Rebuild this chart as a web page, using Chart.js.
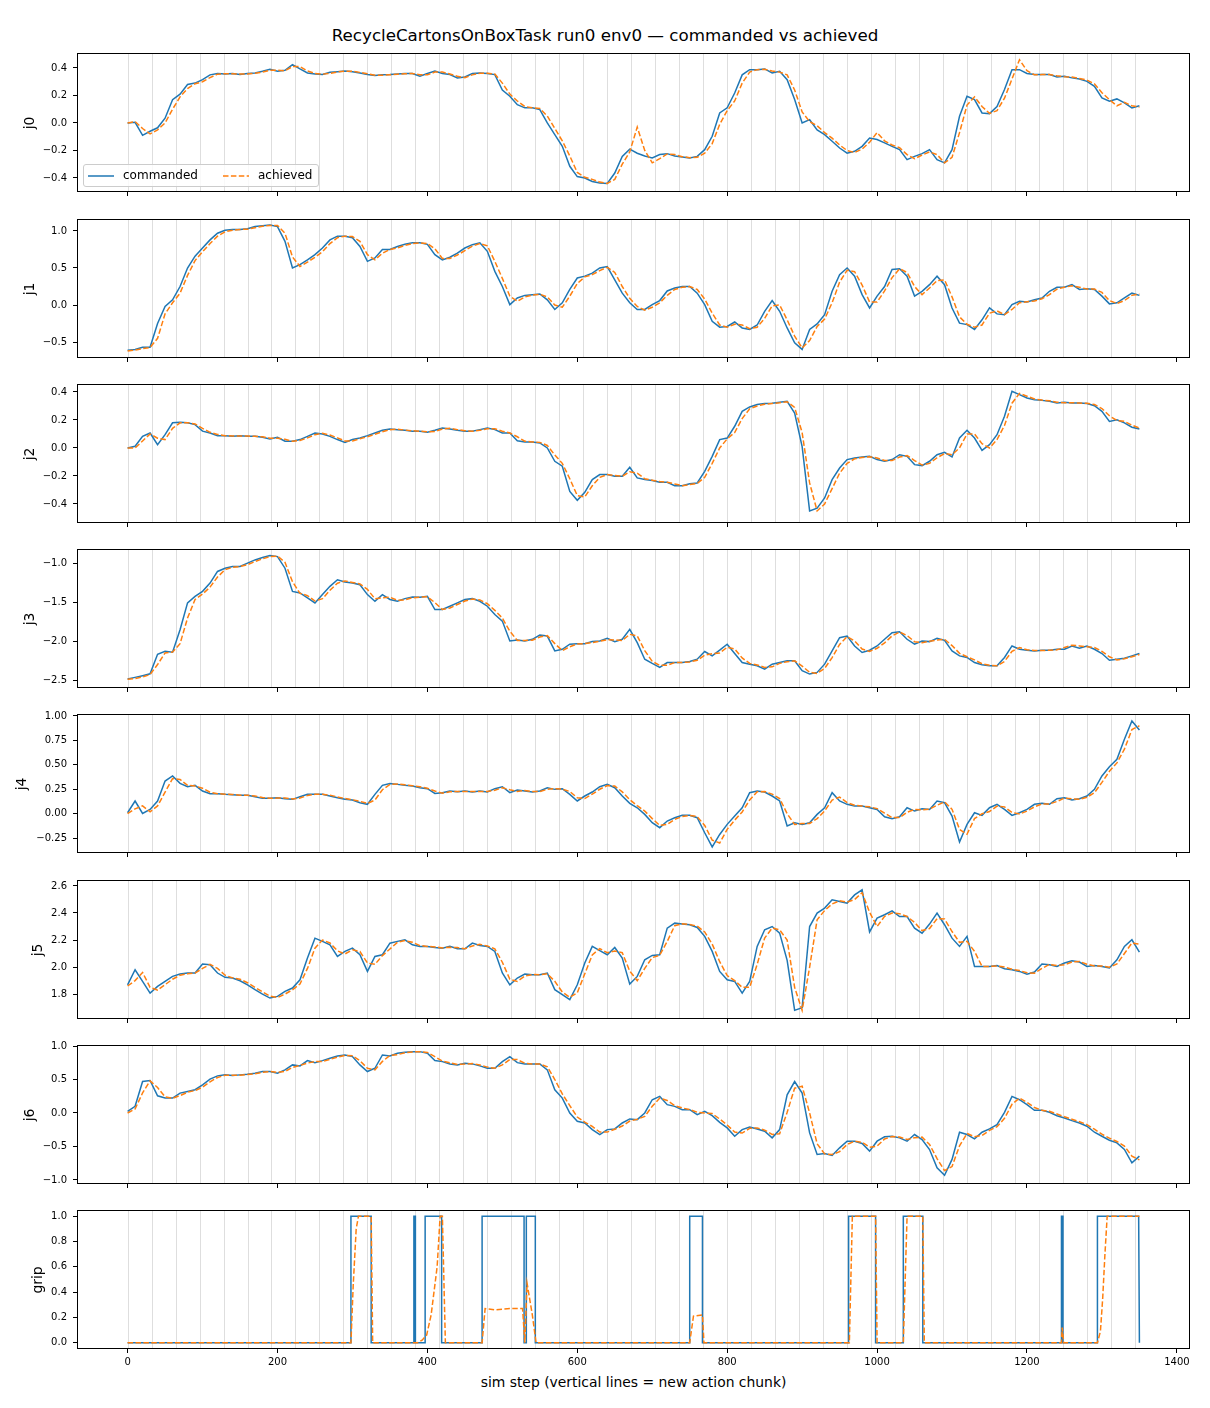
<!DOCTYPE html>
<html>
<head>
<meta charset="utf-8">
<script src="https://cdn.jsdelivr.net/npm/chart.js@4.4.1/dist/chart.umd.min.js"></script>
<style>
  body { margin: 0; background: #fff; font-family: "DejaVu Sans", sans-serif; color: #000; }
  #page { position: relative; width: 1210px; height: 1408px; overflow: hidden; }
  #page canvas { position: absolute; left: 0; }
  .suptitle { position: absolute; top: 27px; left: 0; width: 1210px; text-align: center; font-size: 16.7px; line-height: 17px; }
  .xlabel { position: absolute; top: 1374px; left: 77px; width: 1113px; text-align: center; font-size: 13.9px; line-height: 16px; }
  .ylabel { position: absolute; width: 60px; height: 16px; line-height: 16px; text-align: center; font-size: 13.9px; transform: rotate(-90deg); }
  .legend { position: absolute; left: 83px; top: 164px; width: 234px; height: 21px; border: 1px solid #ccc; border-radius: 3px; background: rgba(255,255,255,0.8); font-size: 12px; z-index: 5; }
  .legend svg { position: absolute; top: 9px; }
  .legend span { position: absolute; top: 3px; line-height: 14px; }
</style>
</head>
<body>
<div id="page">
  <div class="suptitle">RecycleCartonsOnBoxTask run0 env0 — commanded vs achieved</div>
  <div class="legend">
    <svg style="left:4px" width="27" height="4"><line x1="0" y1="2" x2="26" y2="2" stroke="#1f77b4" stroke-width="1.5"/></svg>
    <span style="left:39px">commanded</span>
    <svg style="left:139px" width="27" height="4"><line x1="0" y1="2" x2="26" y2="2" stroke="#ff7f0e" stroke-width="1.5" stroke-dasharray="5.5 2.4"/></svg>
    <span style="left:174px">achieved</span>
  </div>
  <div class="xlabel">sim step (vertical lines = new action chunk)</div>
</div>
<script>
// sim steps (every 10th step)
const steps = [
  0, 10, 20, 30, 40, 50, 60, 70, 80, 90,
  100, 110, 120, 130, 140, 150, 160, 170, 180, 190,
  200, 210, 220, 230, 240, 250, 260, 270, 280, 290,
  300, 310, 320, 330, 340, 350, 360, 370, 380, 390,
  400, 410, 420, 430, 440, 450, 460, 470, 480, 490,
  500, 510, 520, 530, 540, 550, 560, 570, 580, 590,
  600, 610, 620, 630, 640, 650, 660, 670, 680, 690,
  700, 710, 720, 730, 740, 750, 760, 770, 780, 790,
  800, 810, 820, 830, 840, 850, 860, 870, 880, 890,
  900, 910, 920, 930, 940, 950, 960, 970, 980, 990,
  1000, 1010, 1020, 1030, 1040, 1050, 1060, 1070, 1080, 1090,
  1100, 1110, 1120, 1130, 1140, 1150, 1160, 1170, 1180, 1190,
  1200, 1210, 1220, 1230, 1240, 1250, 1260, 1270, 1280, 1290,
  1300, 1310, 1320, 1330, 1340, 1350
];

// action chunk boundaries (every 32 steps)
const chunkStarts = [0, 32, 64, 96, 128, 160, 192, 224, 256, 288, 320, 352, 384, 416, 448, 480,
  512, 544, 576, 608, 640, 672, 704, 736, 768, 800, 832, 864, 896, 928, 960, 992, 1024, 1056,
  1088, 1120, 1152, 1184, 1216, 1248, 1280, 1312, 1344];

const xTicks = [0, 200, 400, 600, 800, 1000, 1200, 1400];

const j0Cmd = [
  0.00, 0.005, -0.09, -0.06, -0.035, 0.035, 0.17, 0.21, 0.28, 0.29,
  0.315, 0.35, 0.36, 0.357, 0.36, 0.352, 0.36, 0.364, 0.376, 0.39,
  0.376, 0.383, 0.425, 0.393, 0.364, 0.357, 0.352, 0.369, 0.373, 0.378,
  0.373, 0.364, 0.352, 0.345, 0.35, 0.352, 0.357, 0.36, 0.36, 0.34,
  0.36, 0.378, 0.36, 0.352, 0.328, 0.335, 0.36, 0.364, 0.36, 0.352,
  0.24, 0.195, 0.133, 0.11, 0.11, 0.097, 0.0, -0.085, -0.17, -0.315,
  -0.39, -0.40, -0.425, -0.437, -0.44, -0.364, -0.243, -0.19, -0.22, -0.24,
  -0.255, -0.23, -0.223, -0.24, -0.248, -0.255, -0.243, -0.194, -0.097, 0.073,
  0.11, 0.218, 0.35, 0.388, 0.388, 0.393, 0.364, 0.376, 0.315, 0.17,
  0.0, 0.024, -0.05, -0.085, -0.133, -0.182, -0.22, -0.206, -0.17, -0.11,
  -0.12, -0.145, -0.17, -0.194, -0.267, -0.243, -0.223, -0.194, -0.267, -0.29,
  -0.194, 0.049, 0.194, 0.17, 0.073, 0.068, 0.12, 0.243, 0.388, 0.388,
  0.36, 0.352, 0.352, 0.352, 0.335, 0.34, 0.328, 0.32, 0.303, 0.267,
  0.182, 0.158, 0.175, 0.146, 0.11, 0.126
];
const j0Ach = [
  0.0, 0.01, -0.04, -0.08, -0.05, 0.0, 0.10, 0.19, 0.25, 0.285,
  0.30, 0.33, 0.355, 0.358, 0.358, 0.356, 0.356, 0.362, 0.37, 0.383,
  0.383, 0.38, 0.41, 0.41, 0.378, 0.36, 0.355, 0.36, 0.371, 0.376,
  0.376, 0.368, 0.358, 0.348, 0.348, 0.351, 0.355, 0.358, 0.36, 0.35,
  0.35, 0.37, 0.37, 0.356, 0.34, 0.33, 0.35, 0.362, 0.362, 0.356,
  0.29, 0.21, 0.16, 0.12, 0.11, 0.105, 0.05, -0.04, -0.13, -0.24,
  -0.36, -0.395, -0.41, -0.43, -0.44, -0.41, -0.30, -0.21, -0.03, -0.20,
  -0.29, -0.26, -0.225, -0.23, -0.245, -0.252, -0.25, -0.22, -0.15, -0.01,
  0.09, 0.16, 0.29, 0.37, 0.388, 0.39, 0.378, 0.37, 0.35, 0.24,
  0.08, 0.01, -0.02, -0.07, -0.11, -0.16, -0.20, -0.215, -0.19, -0.14,
  -0.07, -0.13, -0.16, -0.18, -0.23, -0.26, -0.233, -0.21, -0.23, -0.29,
  -0.25, -0.07, 0.13, 0.19, 0.12, 0.07, 0.09, 0.18, 0.32, 0.46,
  0.38, 0.35, 0.352, 0.352, 0.343, 0.337, 0.334, 0.324, 0.312, 0.285,
  0.22, 0.17, 0.125, 0.15, 0.125, 0.115
];

const j1Cmd = [
  -0.61, -0.60, -0.57, -0.57, -0.25, -0.02, 0.07, 0.25, 0.50, 0.66,
  0.77, 0.88, 0.97, 1.01, 1.02, 1.02, 1.03, 1.06, 1.07, 1.08,
  1.06, 0.86, 0.50, 0.545, 0.61, 0.68, 0.77, 0.88, 0.93, 0.93,
  0.91, 0.79, 0.59, 0.635, 0.75, 0.75, 0.79, 0.82, 0.84, 0.84,
  0.82, 0.68, 0.61, 0.645, 0.70, 0.77, 0.815, 0.84, 0.725, 0.455,
  0.25, 0.005, 0.095, 0.13, 0.14, 0.15, 0.07, -0.06, 0.03, 0.21,
  0.365, 0.39, 0.43, 0.50, 0.52, 0.34, 0.16, 0.03, -0.06, -0.06,
  0.005, 0.06, 0.19, 0.23, 0.25, 0.25, 0.16, 0.005, -0.22, -0.30,
  -0.29, -0.23, -0.31, -0.33, -0.27, -0.085, 0.06, -0.085, -0.31, -0.51,
  -0.60, -0.33, -0.255, -0.13, 0.185, 0.41, 0.50, 0.39, 0.14, -0.04,
  0.12, 0.25, 0.48, 0.49, 0.39, 0.12, 0.185, 0.275, 0.39, 0.275,
  -0.04, -0.245, -0.265, -0.33, -0.20, -0.04, -0.12, -0.13, 0.005, 0.05,
  0.04, 0.07, 0.095, 0.185, 0.24, 0.24, 0.275, 0.21, 0.22, 0.21,
  0.12, 0.015, 0.03, 0.095, 0.16, 0.13
];
const j1Ach = [
  -0.62, -0.61, -0.59, -0.575, -0.45, -0.12, 0.03, 0.16, 0.40, 0.60,
  0.72, 0.83, 0.93, 0.99, 1.01, 1.02, 1.025, 1.045, 1.065, 1.075,
  1.075, 0.97, 0.65, 0.52, 0.58, 0.645, 0.72, 0.83, 0.91, 0.93,
  0.925, 0.86, 0.68, 0.61, 0.70, 0.75, 0.77, 0.805, 0.83, 0.84,
  0.83, 0.76, 0.63, 0.63, 0.675, 0.735, 0.795, 0.83, 0.80, 0.59,
  0.36, 0.12, 0.05, 0.11, 0.135, 0.145, 0.11, 0.0, -0.03, 0.12,
  0.29, 0.38, 0.41, 0.465, 0.51, 0.44, 0.25, 0.09, -0.02, -0.07,
  -0.03, 0.03, 0.13, 0.21, 0.24, 0.25, 0.21, 0.08, -0.11, -0.27,
  -0.30, -0.26, -0.27, -0.32, -0.30, -0.18, -0.01, 0.0, -0.20, -0.42,
  -0.58, -0.48, -0.29, -0.19, 0.03, 0.31, 0.47, 0.45, 0.27, 0.04,
  0.04, 0.19, 0.37, 0.49, 0.44, 0.25, 0.14, 0.23, 0.33, 0.34,
  0.11, -0.16, -0.26, -0.30, -0.27, -0.11, -0.08, -0.13, -0.06, 0.03,
  0.045, 0.055, 0.085, 0.14, 0.215, 0.24, 0.26, 0.24, 0.215, 0.215,
  0.17, 0.06, 0.02, 0.06, 0.13, 0.15
];

const j2Cmd = [
  0.0, 0.012, 0.083, 0.107, 0.024, 0.095, 0.18, 0.183, 0.18, 0.167,
  0.12, 0.107, 0.088, 0.088, 0.083, 0.088, 0.083, 0.083, 0.076, 0.064,
  0.076, 0.048, 0.048, 0.06, 0.083, 0.107, 0.1, 0.083, 0.06, 0.04,
  0.06, 0.071, 0.088, 0.107, 0.126, 0.136, 0.131, 0.126, 0.12, 0.12,
  0.112, 0.126, 0.143, 0.136, 0.126, 0.12, 0.12, 0.131, 0.143, 0.131,
  0.107, 0.107, 0.052, 0.043, 0.043, 0.036, 0.0, -0.095, -0.13, -0.31,
  -0.374, -0.317, -0.226, -0.19, -0.19, -0.202, -0.202, -0.138, -0.214, -0.226,
  -0.233, -0.245, -0.245, -0.269, -0.269, -0.255, -0.25, -0.167, -0.06, 0.06,
  0.071, 0.155, 0.262, 0.293, 0.31, 0.317, 0.32, 0.326, 0.333, 0.25,
  0.01, -0.45, -0.43, -0.357, -0.226, -0.143, -0.083, -0.071, -0.064, -0.06,
  -0.083, -0.095, -0.083, -0.048, -0.06, -0.119, -0.126, -0.095, -0.048, -0.031,
  -0.064, 0.071, 0.126, 0.071, -0.017, 0.024, 0.095, 0.226, 0.405, 0.381,
  0.357, 0.345, 0.34, 0.333, 0.321, 0.326, 0.321, 0.321, 0.317, 0.302,
  0.262, 0.19, 0.202, 0.179, 0.148, 0.136
];
const j2Ach = [
  0.0, 0.0, 0.05, 0.10, 0.07, 0.06, 0.14, 0.18, 0.18, 0.172,
  0.14, 0.112, 0.097, 0.088, 0.086, 0.086, 0.085, 0.083, 0.08, 0.07,
  0.07, 0.062, 0.048, 0.054, 0.072, 0.095, 0.105, 0.092, 0.072, 0.05,
  0.05, 0.066, 0.08, 0.098, 0.116, 0.131, 0.134, 0.128, 0.123, 0.12,
  0.116, 0.118, 0.135, 0.14, 0.131, 0.123, 0.12, 0.126, 0.137, 0.137,
  0.12, 0.107, 0.08, 0.048, 0.043, 0.04, 0.018, -0.05, -0.11, -0.22,
  -0.34, -0.35, -0.27, -0.21, -0.19, -0.196, -0.202, -0.17, -0.18, -0.22,
  -0.23, -0.24, -0.245, -0.257, -0.269, -0.262, -0.253, -0.21, -0.11, 0.0,
  0.065, 0.11, 0.21, 0.28, 0.30, 0.313, 0.318, 0.323, 0.33, 0.29,
  0.11, -0.25, -0.45, -0.40, -0.29, -0.18, -0.11, -0.077, -0.068, -0.062,
  -0.072, -0.09, -0.09, -0.065, -0.054, -0.09, -0.122, -0.11, -0.07, -0.04,
  -0.048, 0.0, 0.10, 0.10, 0.03, 0.0, 0.06, 0.16, 0.32, 0.39,
  0.37, 0.35, 0.342, 0.337, 0.327, 0.323, 0.323, 0.321, 0.319, 0.31,
  0.282, 0.23, 0.196, 0.19, 0.163, 0.142
];

const j3Cmd = [
  -2.487, -2.466, -2.444, -2.42, -2.167, -2.13, -2.14, -1.85, -1.504, -1.419,
  -1.355, -1.248, -1.098, -1.056, -1.034, -1.034, -0.99, -0.949, -0.919, -0.893,
  -0.906, -1.056, -1.355, -1.376, -1.44, -1.504, -1.397, -1.29, -1.205, -1.235,
  -1.248, -1.27, -1.397, -1.483, -1.397, -1.46, -1.483, -1.449, -1.427, -1.432,
  -1.419, -1.59, -1.59, -1.547, -1.504, -1.46, -1.449, -1.483, -1.547, -1.654,
  -1.739, -1.996, -1.983, -1.996, -1.974, -1.919, -1.932, -2.124, -2.103, -2.038,
  -2.03, -2.03, -2.004, -1.996, -1.962, -2.004, -1.974, -1.846, -2.017, -2.231,
  -2.286, -2.338, -2.274, -2.274, -2.274, -2.26, -2.231, -2.132, -2.188, -2.115,
  -2.038, -2.158, -2.274, -2.295, -2.316, -2.359, -2.295, -2.274, -2.252, -2.252,
  -2.38, -2.423, -2.402, -2.295, -2.124, -1.953, -1.932, -2.06, -2.145, -2.115,
  -2.06, -1.974, -1.889, -1.876, -1.974, -2.038, -1.996, -2.004, -1.962, -1.987,
  -2.124, -2.188, -2.209, -2.274, -2.303, -2.316, -2.316, -2.209, -2.06, -2.103,
  -2.115, -2.124, -2.115, -2.115, -2.103, -2.103, -2.06, -2.09, -2.06, -2.103,
  -2.158, -2.244, -2.231, -2.218, -2.188, -2.158
];
const j3Ach = [
  -2.49, -2.48, -2.46, -2.43, -2.30, -2.15, -2.14, -2.03, -1.70, -1.46,
  -1.39, -1.30, -1.17, -1.075, -1.045, -1.034, -1.01, -0.97, -0.935, -0.905,
  -0.90, -0.98, -1.23, -1.38, -1.41, -1.48, -1.45, -1.34, -1.25, -1.22,
  -1.24, -1.26, -1.33, -1.45, -1.44, -1.43, -1.47, -1.465, -1.438, -1.43,
  -1.425, -1.50, -1.59, -1.57, -1.525, -1.48, -1.455, -1.466, -1.515, -1.60,
  -1.70, -1.87, -1.99, -1.99, -1.985, -1.945, -1.925, -2.03, -2.12, -2.07,
  -2.034, -2.03, -2.017, -2.0, -1.98, -1.983, -1.99, -1.91, -1.93, -2.12,
  -2.26, -2.31, -2.31, -2.274, -2.274, -2.267, -2.245, -2.18, -2.16, -2.15,
  -2.077, -2.10, -2.215, -2.285, -2.305, -2.337, -2.33, -2.285, -2.263, -2.252,
  -2.32, -2.40, -2.415, -2.35, -2.21, -2.04, -1.94, -1.995, -2.10, -2.13,
  -2.09, -2.02, -1.93, -1.88, -1.925, -2.005, -2.017, -2.0, -1.983, -1.975,
  -2.055, -2.155, -2.2, -2.24, -2.29, -2.31, -2.316, -2.26, -2.13, -2.08,
  -2.11, -2.12, -2.12, -2.115, -2.11, -2.08, -2.05, -2.06, -2.07, -2.08,
  -2.13, -2.20, -2.24, -2.225, -2.2, -2.17
];

const j4Cmd = [
  0.01, 0.13, 0.003, 0.044, 0.13, 0.334, 0.386, 0.31, 0.276, 0.29,
  0.232, 0.205, 0.205, 0.198, 0.195, 0.188, 0.188, 0.174, 0.157, 0.157,
  0.164, 0.154, 0.147, 0.174, 0.198, 0.198, 0.198, 0.181, 0.164, 0.147,
  0.14, 0.113, 0.096, 0.198, 0.29, 0.31, 0.3, 0.29, 0.283, 0.266,
  0.256, 0.208, 0.215, 0.232, 0.225, 0.232, 0.222, 0.232, 0.222, 0.256,
  0.276, 0.215, 0.242, 0.232, 0.222, 0.232, 0.266, 0.249, 0.256, 0.198,
  0.13, 0.181, 0.222, 0.276, 0.3, 0.266, 0.181, 0.106, 0.061, -0.007,
  -0.092, -0.143, -0.075, -0.041, -0.017, -0.017, -0.041, -0.195, -0.34, -0.212,
  -0.109, -0.024, 0.061, 0.215, 0.232, 0.222, 0.181, 0.13, -0.126, -0.092,
  -0.109, -0.092, -0.007, 0.061, 0.215, 0.13, 0.096, 0.078, 0.078, 0.061,
  0.044, -0.031, -0.051, -0.031, 0.061, 0.027, 0.051, 0.044, 0.13, 0.113,
  -0.024, -0.29, -0.109, 0.01, -0.017, 0.061, 0.096, 0.044, -0.017, 0.01,
  0.044, 0.096, 0.106, 0.096, 0.154, 0.164, 0.14, 0.154, 0.181, 0.249,
  0.386, 0.481, 0.556, 0.761, 0.949, 0.857
];
const j4Ach = [
  0.0, 0.05, 0.08, 0.02, 0.08, 0.22, 0.36, 0.35, 0.29, 0.283,
  0.26, 0.22, 0.205, 0.2, 0.197, 0.19, 0.188, 0.18, 0.165, 0.157,
  0.16, 0.16, 0.15, 0.16, 0.186, 0.198, 0.198, 0.19, 0.172, 0.155,
  0.143, 0.126, 0.105, 0.14, 0.245, 0.30, 0.305, 0.295, 0.286, 0.275,
  0.26, 0.232, 0.21, 0.224, 0.228, 0.228, 0.227, 0.227, 0.227, 0.24,
  0.266, 0.245, 0.228, 0.237, 0.227, 0.227, 0.25, 0.257, 0.252, 0.227,
  0.163, 0.155, 0.2, 0.25, 0.288, 0.283, 0.223, 0.143, 0.083, 0.027,
  -0.05, -0.12, -0.11, -0.058, -0.029, -0.017, -0.03, -0.12, -0.27, -0.30,
  -0.16, -0.066, 0.018, 0.14, 0.224, 0.227, 0.2, 0.155, 0.0, -0.11,
  -0.10, -0.10, -0.05, 0.027, 0.14, 0.17, 0.113, 0.087, 0.078, 0.07,
  0.052, 0.006, -0.04, -0.04, 0.015, 0.044, 0.039, 0.047, 0.087, 0.121,
  0.045, -0.16, -0.21, -0.05, 0.0, 0.022, 0.078, 0.07, 0.013, -0.003,
  0.027, 0.07, 0.1, 0.1, 0.125, 0.16, 0.152, 0.147, 0.168, 0.215,
  0.32, 0.434, 0.52, 0.66, 0.86, 0.9
];

const j5Cmd = [
  1.869, 1.98, 1.894, 1.808, 1.857, 1.894, 1.931, 1.948, 1.956, 1.956,
  2.022, 2.017, 1.956, 1.924, 1.919, 1.899, 1.869, 1.833, 1.8, 1.771,
  1.783, 1.82, 1.845, 1.906, 2.067, 2.214, 2.19, 2.165, 2.079, 2.116,
  2.14, 2.091, 1.968, 2.079, 2.091, 2.177, 2.19, 2.202, 2.165, 2.153,
  2.153, 2.145, 2.14, 2.153, 2.135, 2.135, 2.177, 2.16, 2.153, 2.116,
  1.956, 1.869, 1.919, 1.948, 1.943, 1.943, 1.956, 1.833, 1.796, 1.759,
  1.869, 2.03, 2.153, 2.121, 2.091, 2.145, 2.067, 1.874, 1.931, 2.054,
  2.086, 2.091, 2.288, 2.325, 2.318, 2.313, 2.293, 2.227, 2.116, 1.968,
  1.906, 1.894, 1.808, 1.894, 2.153, 2.276, 2.3, 2.251, 2.05, 1.68,
  1.70, 2.30, 2.399, 2.436, 2.498, 2.485, 2.473, 2.534, 2.571, 2.26,
  2.362, 2.387, 2.416, 2.374, 2.374, 2.288, 2.251, 2.318, 2.399, 2.313,
  2.214, 2.153, 2.227, 2.005, 2.005, 2.005, 2.012, 1.988, 1.98, 1.968,
  1.948, 1.963, 2.022, 2.017, 2.005, 2.03, 2.047, 2.037, 2.005, 2.012,
  2.005, 1.993, 2.054, 2.153, 2.202, 2.111
];
const j5Ach = [
  1.86, 1.90, 1.96, 1.85, 1.83, 1.87, 1.91, 1.94, 1.95, 1.956,
  1.99, 2.02, 1.99, 1.94, 1.92, 1.91, 1.884, 1.85, 1.817, 1.785,
  1.775, 1.80, 1.832, 1.875, 1.99, 2.14, 2.20, 2.178, 2.12, 2.097,
  2.128, 2.115, 2.03, 2.02, 2.085, 2.134, 2.183, 2.196, 2.183, 2.159,
  2.153, 2.149, 2.142, 2.146, 2.144, 2.135, 2.156, 2.168, 2.156, 2.135,
  2.036, 1.91, 1.894, 1.933, 1.945, 1.943, 1.95, 1.895, 1.815, 1.777,
  1.81, 1.95, 2.09, 2.137, 2.106, 2.118, 2.106, 1.97, 1.90, 1.99,
  2.07, 2.088, 2.19, 2.306, 2.32, 2.315, 2.303, 2.26, 2.17, 2.04,
  1.937, 1.9, 1.85, 1.85, 2.02, 2.215, 2.288, 2.275, 2.2, 1.85,
  1.68, 2.0, 2.35, 2.418, 2.467, 2.49, 2.48, 2.5, 2.55, 2.405,
  2.3, 2.375, 2.4, 2.395, 2.374, 2.33, 2.27, 2.285, 2.358, 2.356,
  2.263, 2.183, 2.19, 2.116, 2.005, 2.005, 2.008, 2.0, 1.984, 1.974,
  1.958, 1.955, 1.99, 2.02, 2.011, 2.017, 2.038, 2.042, 2.021, 2.008,
  2.008, 1.999, 2.023, 2.1, 2.178, 2.17
];

const j6Cmd = [
  0.025, 0.1, 0.47, 0.485, 0.257, 0.223, 0.223, 0.297, 0.322, 0.347,
  0.421, 0.505, 0.554, 0.569, 0.559, 0.569, 0.579, 0.594, 0.619, 0.619,
  0.594, 0.644, 0.718, 0.703, 0.782, 0.752, 0.782, 0.817, 0.851, 0.866,
  0.842, 0.718, 0.619, 0.668, 0.866, 0.851, 0.891, 0.906, 0.916, 0.916,
  0.891, 0.782, 0.767, 0.733, 0.718, 0.743, 0.733, 0.703, 0.668, 0.668,
  0.767, 0.842, 0.752, 0.733, 0.733, 0.733, 0.644, 0.347, 0.223, 0.0,
  -0.124, -0.149, -0.248, -0.322, -0.248, -0.238, -0.149, -0.089, -0.099, 0.0,
  0.198, 0.248, 0.124, 0.099, 0.05, 0.05, -0.025, 0.025, -0.04, -0.139,
  -0.223, -0.347, -0.248, -0.208, -0.238, -0.272, -0.371, -0.248, 0.272, 0.47,
  0.297, -0.297, -0.619, -0.604, -0.634, -0.52, -0.421, -0.421, -0.455, -0.569,
  -0.421, -0.356, -0.347, -0.371, -0.421, -0.322, -0.396, -0.545, -0.817, -0.93,
  -0.693, -0.287, -0.322, -0.386, -0.287, -0.238, -0.173, 0.01, 0.248, 0.198,
  0.124, 0.04, 0.04, 0.01, -0.04, -0.074, -0.114, -0.149, -0.198, -0.287,
  -0.347, -0.406, -0.446, -0.545, -0.743, -0.644
];
const j6Ach = [
  0.0, 0.06, 0.30, 0.48, 0.38, 0.24, 0.22, 0.26, 0.31, 0.335,
  0.385, 0.465, 0.53, 0.562, 0.564, 0.564, 0.574, 0.587, 0.607, 0.619,
  0.607, 0.62, 0.68, 0.71, 0.745, 0.767, 0.767, 0.8, 0.834, 0.858,
  0.854, 0.78, 0.668, 0.644, 0.77, 0.858, 0.871, 0.898, 0.911, 0.916,
  0.904, 0.84, 0.775, 0.75, 0.725, 0.73, 0.738, 0.718, 0.685, 0.668,
  0.718, 0.80, 0.797, 0.742, 0.733, 0.733, 0.69, 0.50, 0.285, 0.11,
  -0.06, -0.137, -0.2, -0.285, -0.285, -0.243, -0.194, -0.12, -0.094, -0.05,
  0.1, 0.223, 0.186, 0.11, 0.075, 0.05, 0.012, 0.0, -0.008, -0.09,
  -0.18, -0.285, -0.3, -0.228, -0.223, -0.255, -0.32, -0.31, 0.01, 0.37,
  0.40, 0.0, -0.46, -0.61, -0.62, -0.577, -0.47, -0.421, -0.438, -0.51,
  -0.495, -0.388, -0.35, -0.36, -0.396, -0.37, -0.36, -0.47, -0.68, -0.86,
  -0.80, -0.49, -0.305, -0.354, -0.336, -0.26, -0.205, -0.08, 0.13, 0.223,
  0.16, 0.082, 0.04, 0.025, -0.015, -0.057, -0.094, -0.13, -0.173, -0.242,
  -0.317, -0.376, -0.426, -0.495, -0.644, -0.70
];

// gripper: read at the switching steps
const gripCmdSteps = [0, 298, 298, 325, 325, 382, 382, 384, 384, 397, 397, 419, 419, 473, 473, 529, 529, 532,
  532, 544, 544, 750, 750, 767, 767, 962, 962, 998, 998, 1035, 1035, 1061, 1061, 1246, 1246, 1248, 1248,
  1294, 1294, 1349, 1350];
const gripCmdVals = [0, 0, 1, 1, 0, 0, 1, 1, 0, 0, 1, 1, 0, 0, 1, 1, 0, 0,
  1, 1, 0, 0, 1, 1, 0, 0, 1, 1, 0, 0, 1, 1, 0, 0, 1, 1, 0,
  0, 1, 1, 0];
const gripAchSteps = [0, 298, 301, 305, 308, 325, 327, 387, 393, 399, 405, 413, 417, 420, 424, 473, 477, 490,
  510, 527, 530, 533, 540, 545, 750, 755, 767, 769, 963, 967, 998, 1000, 1035, 1040, 1061, 1063,
  1246, 1247, 1249, 1294, 1298, 1301, 1304, 1307, 1350];
const gripAchVals = [0, 0, 0.45, 0.9, 1, 1, 0, 0, 0.02, 0.06, 0.22, 0.6, 1, 1, 0, 0, 0.27, 0.26,
  0.27, 0.27, 0, 0.47, 0.22, 0, 0, 0.21, 0.22, 0, 0, 1, 1, 0, 0, 1, 1, 0,
  0, 0.12, 0, 0, 0.09, 0.35, 0.7, 1, 1];

const panels = [
  { label: 'j0', top: 53, lx: 29, cx: steps, cy: j0Cmd, ax: steps, ay: j0Ach, min: -0.502, max: 0.509, ticks: [-0.4, -0.2, 0, 0.2, 0.4], dec: 1 },
  { label: 'j1', top: 219, lx: 29, cx: steps, cy: j1Cmd, ax: steps, ay: j1Ach, min: -0.716, max: 1.162, ticks: [-0.5, 0, 0.5, 1.0], dec: 1 },
  { label: 'j2', top: 384, lx: 29, cx: steps, cy: j2Cmd, ax: steps, ay: j2Ach, min: -0.536, max: 0.457, ticks: [-0.4, -0.2, 0, 0.2, 0.4], dec: 1 },
  { label: 'j3', top: 549, lx: 29, cx: steps, cy: j3Cmd, ax: steps, ay: j3Ach, min: -2.603, max: -0.808, ticks: [-2.5, -2.0, -1.5, -1.0], dec: 1 },
  { label: 'j4', top: 714, lx: 21, cx: steps, cy: j4Cmd, ax: steps, ay: j4Ach, min: -0.402, max: 1.02, ticks: [-0.25, 0, 0.25, 0.5, 0.75, 1.0], dec: 2 },
  { label: 'j5', top: 880, lx: 37, cx: steps, cy: j5Cmd, ax: steps, ay: j5Ach, min: 1.616, max: 2.644, ticks: [1.8, 2.0, 2.2, 2.4, 2.6], dec: 1 },
  { label: 'j6', top: 1045, lx: 29, cx: steps, cy: j6Cmd, ax: steps, ay: j6Ach, min: -1.06, max: 1.015, ticks: [-1.0, -0.5, 0, 0.5, 1.0], dec: 1 },
  { label: 'grip', top: 1210, lx: 37, cx: gripCmdSteps, cy: gripCmdVals, ax: gripAchSteps, ay: gripAchVals, min: -0.05, max: 1.05, ticks: [0, 0.2, 0.4, 0.6, 0.8, 1.0], dec: 1 }
];

const PLOT_H = 139, PAD_TOP = 12;

function fmt(v, d) {
  const s = Math.abs(v) < 1e-9 ? (0).toFixed(d) : v.toFixed(d);
  return s.replace('-', '\u2212');
}

// light vertical line at every action chunk start
const chunkLines = {
  id: 'chunkLines',
  beforeDatasetsDraw(chart) {
    const { ctx, chartArea, scales } = chart;
    ctx.save();
    ctx.strokeStyle = 'rgba(0,0,0,0.13)';
    ctx.lineWidth = 1;
    chunkStarts.forEach(v => {
      const x = Math.round(scales.x.getPixelForValue(v)) + 0.5;
      ctx.beginPath();
      ctx.moveTo(x, chartArea.top);
      ctx.lineTo(x, chartArea.bottom);
      ctx.stroke();
    });
    ctx.restore();
  }
};

// black frame round the axes
const frame = {
  id: 'frame',
  afterDraw(chart) {
    const { ctx, chartArea } = chart;
    ctx.save();
    ctx.strokeStyle = '#000';
    ctx.lineWidth = 1;
    ctx.strokeRect(chartArea.left + 0.5, chartArea.top + 0.5,
      chartArea.right - chartArea.left - 1, chartArea.bottom - chartArea.top - 1);
    ctx.restore();
  }
};

const page = document.getElementById('page');

panels.forEach((p, i) => {
  const last = i === panels.length - 1;
  const xh = last ? 30 : 12;
  const canvas = document.createElement('canvas');
  canvas.width = 1210;
  canvas.height = PAD_TOP + PLOT_H + xh;
  canvas.style.top = (p.top - PAD_TOP) + 'px';
  canvas.style.width = '1210px';
  canvas.style.height = canvas.height + 'px';
  page.appendChild(canvas);

  const yl = document.createElement('div');
  yl.className = 'ylabel';
  yl.textContent = p.label;
  yl.style.left = (p.lx - 30) + 'px';
  yl.style.top = (p.top + PLOT_H / 2 - 8) + 'px';
  page.appendChild(yl);

  new Chart(canvas.getContext('2d'), {
    type: 'line',
    data: {
      datasets: [
        {
          label: 'commanded',
          data: p.cx.map((s, k) => ({ x: s, y: p.cy[k] })),
          borderColor: '#1f77b4',
          borderWidth: 1.5,
          order: 1
        },
        {
          label: 'achieved',
          data: p.ax.map((s, k) => ({ x: s, y: p.ay[k] })),
          borderColor: '#ff7f0e',
          borderWidth: 1.5,
          borderDash: [5.5, 2.4],
          order: 0
        }
      ]
    },
    options: {
      responsive: false,
      animation: false,
      devicePixelRatio: 1,
      events: [],
      layout: { padding: { left: 0, right: 20, top: PAD_TOP, bottom: 0 } },
      elements: { point: { radius: 0 }, line: { tension: 0, fill: false } },
      plugins: { legend: { display: false }, tooltip: { enabled: false } },
      scales: {
        x: {
          type: 'linear',
          min: -67.5,
          max: 1417.5,
          afterBuildTicks: ax => { ax.ticks = xTicks.map(v => ({ value: v })); },
          afterFit: ax => { ax.height = xh; },
          ticks: {
            display: last,
            maxRotation: 0,
            padding: 3,
            color: '#000',
            font: { family: 'DejaVu Sans', size: 10 },
            callback: v => String(v)
          },
          grid: { drawOnChartArea: false, drawTicks: true, tickLength: 4, color: '#000', lineWidth: 1 },
          border: { display: false }
        },
        y: {
          type: 'linear',
          min: p.min,
          max: p.max,
          afterBuildTicks: ax => { ax.ticks = p.ticks.map(v => ({ value: v })); },
          afterFit: ax => { ax.width = 77; },
          ticks: {
            padding: 6,
            color: '#000',
            font: { family: 'DejaVu Sans', size: 10 },
            callback: v => fmt(v, p.dec)
          },
          grid: { drawOnChartArea: false, drawTicks: true, tickLength: 4, color: '#000', lineWidth: 1 },
          border: { display: false }
        }
      }
    },
    plugins: [chunkLines, frame]
  });
});
</script>
</body>
</html>
